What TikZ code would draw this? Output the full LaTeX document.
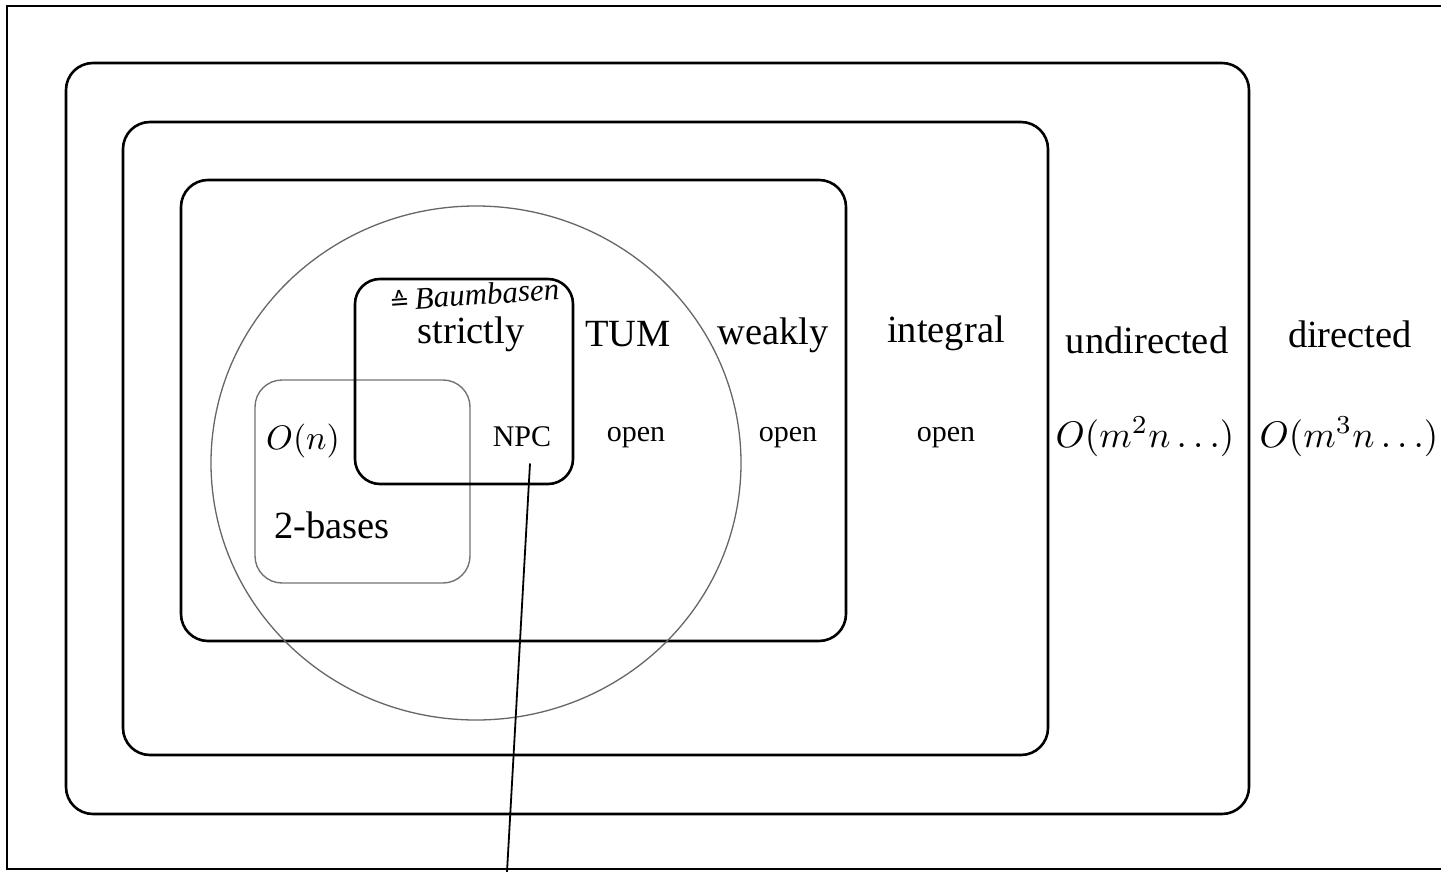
\documentclass[tikz,border=0pt]{standalone}
\usepackage{graphicx}
\usepackage{fontspec}
\setmainfont{Liberation Serif}
\newfontfamily\symfont{DejaVu Sans}
\newcommand{\bigmath}[2]{\scalebox{#1}{$#2$}}
\begin{document}
\begin{tikzpicture}[x=1pt,y=-1pt,
  box/.style={draw=black,line width=2.6pt,rounded corners=27pt},
  thinbox/.style={draw=black!55,line width=1.4pt,rounded corners=27pt},
  big/.style={font=\fontsize{38.5}{40}\selectfont,anchor=base,inner sep=0pt},
  small/.style={font=\fontsize{30}{32}\selectfont,anchor=base,inner sep=0pt},
  mathlbl/.style={anchor=base,inner sep=0pt}]
\useasboundingbox (0,0) rectangle (1441,872);
% open frame around the whole figure
\draw[line width=2.4pt] (1441,6) -- (7,6) -- (7,869) -- (1441,869);
% nested classes
\draw[box] (66,63) rectangle (1249,814);
\draw[box] (123,122) rectangle (1048,755);
\draw[box] (181,180) rectangle (846,641);
% the circle
\draw[black!60,line width=1.3pt] (476,463) ellipse [x radius=265,y radius=257];
% 2-bases and strictly
\draw[thinbox] (255,380) rectangle (470,583);
\draw[box,rounded corners=25pt] (355,279) rectangle (573,484);
% labels of the classes
\node[big] (strictly) at (471,343) {strictly};
\node[big] (tum) at (628,346) {TUM};
\node[big] (weakly) at (773,344) {weakly};
\node[big] (integral) at (946,342) {integral};
\node[big] (undirected) at (1147,353) {undirected};
\node[big] (directed) at (1350,347) {directed};
\node[big] (twobases) at (332,538) {2-bases};
% running times
\node[mathlbl] (on) at (303,449) {\bigmath{3.4}{O(n)}};
\node[small] (npc) at (522,446) {NPC};
\node[small] (open1) at (636,441) {open};
\node[small] (open2) at (788,441) {open};
\node[small] (open3) at (946,441) {open};
\node[mathlbl] (und) at (1145,447) {\bigmath{3.7}{O(m^2n\ldots)}};
\node[mathlbl] (dir) at (1349,447) {\bigmath{3.7}{O(m^3n\ldots)}};
% note above "strictly"
\node[font=\fontsize{31}{33}\selectfont\itshape,anchor=base,inner sep=0pt,rotate=4] (note) at (475,305) {{\symfont\fontsize{24}{26}\selectfont ≙}\,Baumbasen};
% pointer from NPC down through the frame
\coordinate (tail) at (507,872);
\draw[line width=1.8pt] ([xshift=8pt,yshift=-17pt]npc.south) -- (tail);
\end{tikzpicture}
\end{document}
